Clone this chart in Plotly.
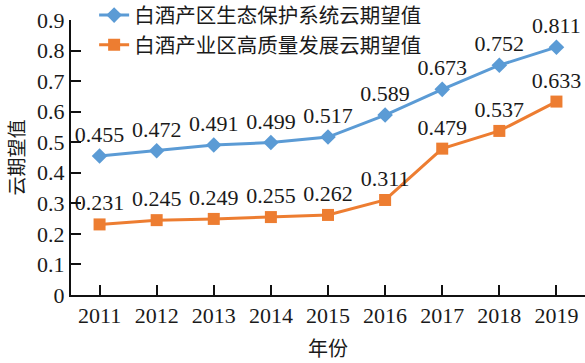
import plotly.graph_objects as go

years = [2011, 2012, 2013, 2014, 2015, 2016, 2017, 2018, 2019]
eco_values = [0.455, 0.472, 0.491, 0.499, 0.517, 0.589, 0.673, 0.752, 0.811]
dev_values = [0.231, 0.245, 0.249, 0.255, 0.262, 0.311, 0.479, 0.537, 0.633]
eco_name = "白酒产区生态保护系统云期望值"
dev_name = "白酒产业区高质量发展云期望值"
x_title = "年份"
y_title = "云期望值"
y_ticks = [0, 0.1, 0.2, 0.3, 0.4, 0.5, 0.6, 0.7, 0.8, 0.9]
y_tick_labels = ["0", "0.1", "0.2", "0.3", "0.4", "0.5", "0.6", "0.7", "0.8", "0.9"]

FONT = "Liberation Serif, Times New Roman, Noto Sans CJK SC, serif"
CJK = "Noto Sans CJK SC"
BLUE = "#5B9BD5"
ORANGE = "#ED7D31"
TXT = "#1a1a1a"

fig = go.Figure()
fig.add_trace(go.Scatter(
    x=years, y=eco_values, name=eco_name, mode="lines+markers+text",
    line=dict(color=BLUE, width=3),
    marker=dict(symbol="diamond", size=12, color=BLUE),
    text=[f"{v:.3f}" for v in eco_values], textposition="top center",
    textfont=dict(family=FONT, size=22, color=TXT),
    cliponaxis=False,
))
fig.add_trace(go.Scatter(
    x=years, y=dev_values, name=dev_name, mode="lines+markers+text",
    line=dict(color=ORANGE, width=3),
    marker=dict(symbol="square", size=12, color=ORANGE),
    text=[f"{v:.3f}" for v in dev_values], textposition="top center",
    textfont=dict(family=FONT, size=22, color=TXT),
    cliponaxis=False,
))

fig.update_layout(
    width=585, height=363,
    margin=dict(l=71, r=0, t=20, b=68, autoexpand=False),
    paper_bgcolor="white", plot_bgcolor="white",
    font=dict(family=FONT, size=22, color=TXT),
    showlegend=True,
    legend=dict(
        x=0.045, y=1.09, xanchor="left", yanchor="top",
        bgcolor="rgba(0,0,0,0)",
        font=dict(family=CJK, size=20.5, color=TXT),
        itemwidth=30, tracegroupgap=0,
    ),
    xaxis=dict(
        range=[2010.5, 2019.5], tickvals=years, ticktext=[str(y) for y in years],
        showgrid=False, zeroline=False, showline=True, linecolor="#111", linewidth=2,
        ticks="inside", ticklen=10, tickwidth=1.5, tickcolor="#111",
        tickfont=dict(family=FONT, size=22, color=TXT), automargin=False,
    ),
    yaxis=dict(
        range=[0, 0.9], tickvals=y_ticks, ticktext=y_tick_labels,
        showgrid=False, zeroline=False, showline=True, linecolor="#111", linewidth=2,
        ticks="inside", ticklen=10, tickwidth=1.5, tickcolor="#111",
        tickfont=dict(family=FONT, size=22, color=TXT), automargin=False,
    ),
    annotations=[
        dict(text=x_title, xref="paper", yref="paper", x=0.5, y=0, yshift=-52,
             xanchor="center", yanchor="middle", showarrow=False,
             font=dict(family=CJK, size=20, color=TXT)),
        dict(text=y_title, xref="paper", yref="paper", x=0, y=0.5, xshift=-56,
             xanchor="center", yanchor="middle", textangle=-90, showarrow=False,
             font=dict(family=CJK, size=19, color=TXT)),
    ],
)

fig.write_html("out.html", config={"displayModeBar": False},
               post_script="document.body.style.margin='0';document.body.style.padding='0';")
